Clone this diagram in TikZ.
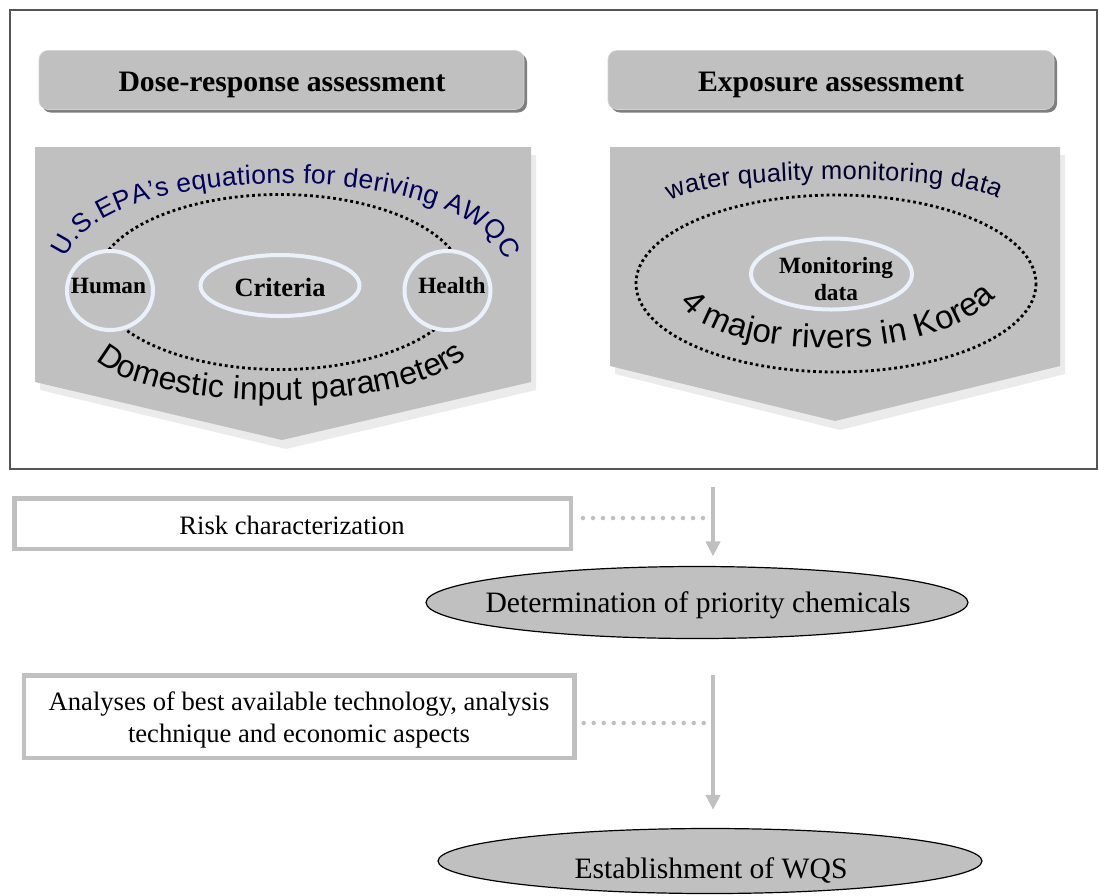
\documentclass[tikz,border=0pt]{standalone}
\usepackage{fontspec}
\setmainfont{Liberation Serif}
\setsansfont{Liberation Sans}
\usetikzlibrary{shapes.geometric,shadows,decorations.text,arrows.meta}
\definecolor{silver}{HTML}{C0C0C0}
\definecolor{hdrsh}{HTML}{7F7F7F}
\definecolor{ringc}{HTML}{EAF1FB}
\definecolor{navyc}{RGB}{0,0,90}
\definecolor{navyd}{RGB}{0,0,45}
\definecolor{pshadow}{HTML}{EBEBEB}
\definecolor{framec}{HTML}{555555}
\begin{document}
\begin{tikzpicture}[x=1pt,y=-1pt,
 hdr/.style={rectangle, rounded corners=9pt, fill=silver, draw=silver!70!white, line width=0.6pt, minimum height=59pt, inner sep=0pt, drop shadow={shadow xshift=3pt, shadow yshift=-3pt, fill=hdrsh, opacity=1}},
 hdrtext/.style={anchor=base, inner sep=0pt, font=\fontsize{29.7}{32}\selectfont\bfseries},
 ring/.style={ellipse, draw=ringc, line width=4pt, fill=silver, inner sep=0pt},
 ringtext/.style={anchor=base, inner sep=0pt, font=\fontsize{23.3}{27}\selectfont\bfseries},
 dotell/.style={draw=black, line width=2.8pt, dash pattern=on 2.8pt off 3pt},
 gbox/.style={rectangle, draw=silver, line width=4.5pt, fill=white, inner sep=0pt},
 boxtext/.style={inner sep=0pt, font=\fontsize{26.6}{32}\selectfont, align=center},
 oval/.style={ellipse, draw=black, line width=1.2pt, fill=silver, inner sep=0pt},
 ovaltext/.style={anchor=base, inner sep=0pt, font=\fontsize{29.6}{32}\selectfont},
 garrow/.style={draw=silver, line width=4.5pt, -{Triangle[width=14pt,length=15pt]}},
 gdots/.style={draw=silver, line width=4.5pt, line cap=round, dash pattern=on 0pt off 10pt},
]
\useasboundingbox (0,0) rectangle (1099,895);
% outer frame
\draw[framec, line width=1.5pt] (10,10) rectangle (1097,469);
% headers
\node[hdr, minimum width=485pt] (hdrL) at (281.5,80) {};
\node[hdrtext] (hdrLt) at (282,91) {Dose-response assessment};
\node[hdr, minimum width=446pt] (hdrR) at (831,80) {};
\node[hdrtext] (hdrRt) at (831,91) {Exposure assessment};
% block arrows
\fill[pshadow] (40,155) -- (536,155) -- (536,390) -- (286,449) -- (40,390) -- cycle;
\fill[silver] (35,147) -- (531,147) -- (531,382) -- (282,440) -- (35,382) -- cycle;
\fill[pshadow] (615,155) -- (1065,155) -- (1065,374) -- (840,430) -- (615,374) -- cycle;
\fill[silver] (610,147) -- (1060,147) -- (1060,366) -- (835,421) -- (610,366) -- cycle;
% dotted ellipses
\draw[dotell] (280,282) ellipse [x radius=184, y radius=87.5];
\draw[dotell] (836,283.5) ellipse [x radius=200, y radius=88.5];
% rings
\node[ring, minimum width=86pt, minimum height=79pt] (human) at (110,290.5) {};
\node[ring, minimum width=86pt, minimum height=79pt] (health) at (447.5,290.5) {};
\node[ring, minimum width=159pt, minimum height=61pt] (crit) at (280,285.5) {};
\node[ring, minimum width=161pt, minimum height=71pt] (monit) at (831.5,274) {};
\node[ringtext] (humant) at (108.5,293.3) {Human};
\node[ringtext] (healtht) at (452,293.3) {Health};
\node[ringtext, font=\fontsize{26.4}{30}\selectfont\bfseries] (critt) at (280,296.7) {Criteria};
\node[ringtext] (monitt) at (836,273) {Monitoring};
\node[ringtext] (datat) at (836,300.7) {data};
% arc texts
\path[decorate, decoration={text along path, text align=fit to path, text={|\sffamily\fontsize{26.5}{26.5}\selectfont\color{navyc}|U.S.EPA's equations for deriving AWQC}}]
  (66,258) .. controls (100,158) and (470,158) .. (505,260);
\path[decorate, decoration={text along path, text align=fit to path, text={|\sffamily\fontsize{32}{32}\selectfont\color{black}|Domestic input parameters}}]
  (96,360) .. controls (150,414) and (412,414) .. (466,356);
\path[decorate, decoration={text along path, text align=fit to path, text={|\sffamily\fontsize{25.5}{25.5}\selectfont\color{navyd}|water quality monitoring data}}]
  (670,201) .. controls (705,174) and (960,172) .. (998,199);
\path[decorate, decoration={text along path, text align=fit to path, text={|\sffamily\fontsize{33}{33}\selectfont\color{black}|4 major rivers in Korea}}]
  (680,303) .. controls (722,364) and (935,364) .. (996,297);
% lower flow
\node[gbox, minimum width=556.5pt, minimum height=50.5pt] (risk) at (292.5,523.5) {};
\node[boxtext, anchor=base] (riskt) at (292,534) {Risk characterization};
\node[gbox, minimum width=550.5pt, minimum height=82.5pt] (anal) at (299.2,716.5) {};
\node[boxtext] (analt) at (299,719.7) {Analyses of best available technology, analysis\\technique and economic aspects};
\node[oval, minimum width=542pt, minimum height=72pt] (det) at (697,602.5) {};
\node[ovaltext] (dett) at (698,612) {Determination of priority chemicals};
\node[oval, minimum width=544pt, minimum height=65pt] (est) at (710,861) {};
\node[ovaltext] (estt) at (711,878) {Establishment of WQS};
\coordinate (a1) at (713,487);
\coordinate (a2) at (713,675);
\draw[garrow, shorten >=9.5pt] (a1) -- (a1 |- det.north);
\draw[garrow, shorten >=18pt] (a2) -- (a2 |- est.north);
\coordinate (m1) at (705,518);
\coordinate (m2) at (705,723);
\draw[gdots] (risk.east |- m1) ++(10,0) -- (m1);
\draw[gdots] (anal.east |- m2) ++(7,0) -- (m2);
\end{tikzpicture}
\end{document}
